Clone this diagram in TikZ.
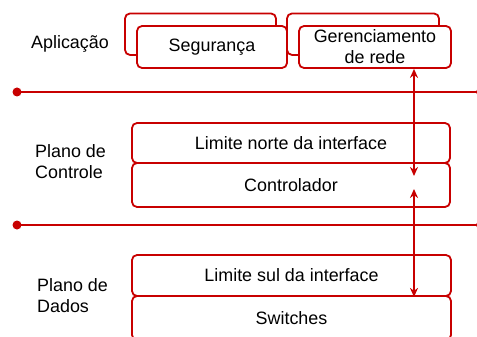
\documentclass[tikz,border=0pt]{standalone}
\usepackage{fontspec}
\setmainfont{Liberation Sans}
\usetikzlibrary{arrows.meta}
\definecolor{dred}{HTML}{C80000}
\begin{document}
\begin{tikzpicture}[x=1pt,y=-1pt,
  box/.style={draw=dred,line width=1.8pt,rounded corners=5pt,fill=white,inner sep=0pt,align=center,font=\fontsize{17.9}{21}\selectfont},
  lbl/.style={inner sep=0pt,align=left,anchor=west,font=\fontsize{17.9}{21}\selectfont},
  sep/.style={draw=dred,line width=1.4pt},
  dot/.style={fill=dred},
  arr/.style={draw=dred,line width=1.8pt,{Stealth[length=9pt,width=8pt]}-{Stealth[length=9pt,width=8pt]}}]
\useasboundingbox (0,0) rectangle (477,337);
% application layer
\node[box,minimum width=151pt,minimum height=41.5pt] (back1) at (200.5,34.2) {};
\node[box,minimum width=152pt,minimum height=41.5pt] (back2) at (363,34.2) {};
\node[box,minimum width=150pt,minimum height=42pt] (seg) at (212,47) {Segurança};
\node[box,minimum width=152pt,minimum height=42pt] (ger) at (375,47) {Gerenciamento\\de rede};
\node[lbl] (lapp) at (31,44) {Aplicação};
% separators
\coordinate (s1a) at (17,92);
\coordinate (s1b) at (479,92);
\coordinate (s2a) at (17,225);
\coordinate (s2b) at (479,225);
\draw[sep] (s1a) -- (s1b);
\draw[sep] (s2a) -- (s2b);
\fill[dot] (s1a) circle (4.5pt);
\fill[dot] (s2a) circle (4.5pt);
\fill[dot] (s1b) circle (3pt);
\fill[dot] (s2b) circle (3pt);
% control plane
\node[box,minimum width=318pt,minimum height=40pt] (norte) at (291,143) {Limite norte da interface};
\node[box,minimum width=318pt,minimum height=44pt] (ctrl) at (291,185) {Controlador};
\node[lbl] (lctrl) at (35,162) {Plano de\\Controle};
% data plane
\node[box,minimum width=319pt,minimum height=41pt] (sul) at (291.5,275.5) {Limite sul da interface};
\node[box,minimum width=319pt,minimum height=44pt] (sw) at (291.5,318) {Switches};
\node[lbl] (ldata) at (37,296) {Plano de\\Dados};
% arrows
\coordinate (a1) at (414,176);
\coordinate (a2) at (414,189);
\draw[arr] (ger.south -| a1) -- (a1);
\draw[arr] (a2) -- (sul.south -| a2);
\end{tikzpicture}
\end{document}
